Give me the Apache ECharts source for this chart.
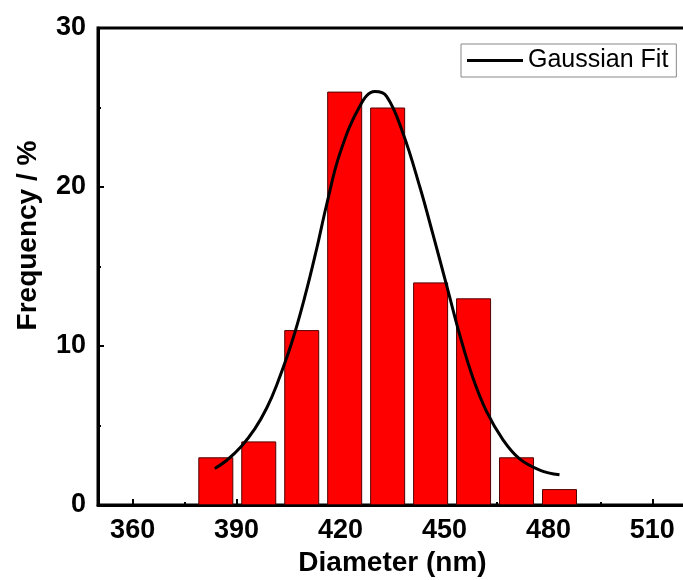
<!DOCTYPE html>
<html>
<head>
<meta charset="utf-8">
<script src="https://cdn.jsdelivr.net/npm/echarts@6/dist/echarts.min.js"></script>
<style>
  html, body { margin: 0; padding: 0; background: #fff; }
  #chart { width: 683px; height: 580px; }
</style>
</head>
<body>
<div id="chart"></div>
<script>
// Histogram bins (bin centres in nm) and frequency (%)
const binCenters = [384, 396.4, 408.8, 421.2, 433.6, 446, 458.4, 470.8, 483.2];
const frequency = [3, 4, 11, 26, 25, 14, 13, 3, 1];

// Gaussian fit curve
const fitX = [383.7, 387.1, 391.4, 395.3, 398.7, 401.5, 405.9, 409.7, 413.1, 416.0, 419.8, 425.6,
  429.9, 433.3, 438.0, 442.9, 446.7, 451.0, 454.4, 458.2, 462.1, 466.9, 471.7, 477.5, 483.2];
const fitY = [2.3, 2.8, 3.7, 4.8, 6.1, 7.5, 10.2, 13.1, 16.1, 18.9, 22.1, 25.1,
  26.0, 25.7, 23.4, 20.0, 17.0, 13.5, 10.7, 8.0, 5.9, 4.1, 2.9, 2.2, 1.9];

// Axis ticks
const majorTicks = [360, 390, 420, 450, 480, 510];
const minorTicks = [375, 405, 435, 465, 495];

const font = '"Liberation Sans", Arial, sans-serif';

const chart = echarts.init(document.getElementById('chart'));

chart.setOption({
  animation: false,
  grid: {
    left: 98, right: -4, top: 28, bottom: 75,
    outerBoundsMode: 'none',
    containLabel: false,
    show: true, borderColor: '#000', borderWidth: 3
  },
  legend: {
    data: [{ name: 'Gaussian Fit', icon: 'rect' }],
    left: 461, top: 44,
    itemWidth: 56, itemHeight: 3,
    padding: [4, 8, 4, 6],
    borderColor: '#888', borderWidth: 1,
    textStyle: { fontFamily: font, fontSize: 25, color: '#000' }
  },
  xAxis: [{
    type: 'value',
    min: 350, max: 520,
    name: 'Diameter (nm)',
    nameLocation: 'middle',
    nameGap: 42,
    nameTextStyle: { fontFamily: font, fontSize: 28, fontWeight: 'bold', color: '#000' },
    axisLine: { show: true, lineStyle: { color: '#000', width: 3 } },
    axisTick: { show: true, inside: true, length: 6, customValues: majorTicks, lineStyle: { color: '#000', width: 2 } },
    axisLabel: { customValues: majorTicks, margin: 12, fontFamily: font, fontSize: 27, fontWeight: 'bold', color: '#000' },
    splitLine: { show: false }
  }, {
    type: 'value',
    position: 'bottom',
    min: 350, max: 520,
    axisLine: { show: false },
    axisTick: { show: true, inside: true, length: 3, customValues: minorTicks, lineStyle: { color: '#000', width: 2 } },
    axisLabel: { show: false },
    splitLine: { show: false }
  }],
  yAxis: {
    type: 'value',
    min: 0, max: 30, interval: 10,
    name: 'Frequency / %',
    nameLocation: 'middle',
    nameGap: 56,
    nameTextStyle: { fontFamily: font, fontSize: 28, fontWeight: 'bold', color: '#000', padding: [0, 0, 0, 62] },
    axisLine: { show: true, lineStyle: { color: '#000', width: 3 } },
    axisTick: { show: true, inside: true, length: 6, lineStyle: { color: '#000', width: 2 } },
    minorTick: { show: true, splitNumber: 2, length: 3, lineStyle: { color: '#000', width: 2 } },
    axisLabel: { margin: 12, fontFamily: font, fontSize: 27, fontWeight: 'bold', color: '#000' },
    splitLine: { show: false }
  },
  series: [{
    type: 'bar',
    name: 'Frequency',
    data: binCenters.map((c, i) => [c, frequency[i]]),
    barWidth: 35,
    itemStyle: { color: '#ff0000', borderColor: '#500000', borderWidth: 1 }
  }, {
    type: 'line',
    name: 'Gaussian Fit',
    data: fitX.map((x, i) => [x, fitY[i]]),
    smooth: 0.4,
    symbol: 'none',
    lineStyle: { color: '#000', width: 3 },
    itemStyle: { color: '#000' }
  }]
});
</script>
</body>
</html>
